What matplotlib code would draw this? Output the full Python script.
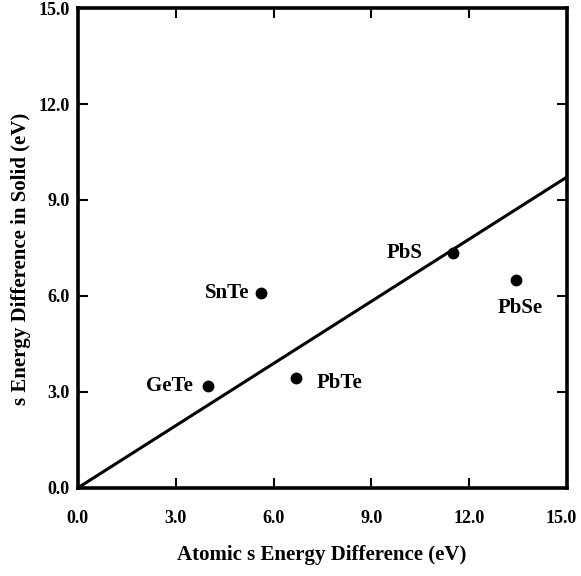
import numpy as np
import matplotlib
matplotlib.use("Agg")
import matplotlib.pyplot as plt
import matplotlib.transforms as mtransforms

plt.rcParams['font.family'] = ['Liberation Serif', 'DejaVu Serif']
plt.rcParams['font.weight'] = 'bold'

# compounds: atomic s energy difference vs s energy difference in the solid (eV)
compounds = ["GeTe", "SnTe", "PbTe", "PbS", "PbSe"]
atomic_ds = [4.0, 5.63, 6.68, 11.49, 13.43]
solid_ds = [3.17, 6.1, 3.45, 7.35, 6.5]

# fitted line through the origin
fit_x = [0.0, 15.0]
fit_y = [0.0, 9.72]

ticks = [0.0, 3.0, 6.0, 9.0, 12.0, 15.0]

# label offsets in points (dx, dy, ha, va)
label_pos = {
    "GeTe": (-11, 0, "right", "center"),
    "SnTe": (-9, 0, "right", "center"),
    "PbTe": (15, -4, "left", "center"),
    "PbS": (-22, 0, "right", "center"),
    "PbSe": (3, -20, "center", "center"),
}

fig = plt.figure(figsize=(5.81, 5.76), dpi=100)
ax = fig.add_axes([0.134, 0.153, 0.842, 0.833])

ax.plot(fit_x, fit_y, color="black", lw=2.2, solid_capstyle="butt")
ax.plot(atomic_ds, solid_ds, "o", color="black", ms=7.5)

for name, x, y in zip(compounds, atomic_ds, solid_ds):
    dx, dy, ha, va = label_pos[name]
    ax.annotate(name, (x, y), xytext=(dx, dy), textcoords="offset points",
                ha=ha, va=va, fontsize=15, fontweight="bold")

ax.set_xlim(0, 15)
ax.set_ylim(0, 15)
ax.set_xticks(ticks)
ax.set_yticks(ticks)
ax.set_xticklabels(["%.1f" % t for t in ticks])
ax.set_yticklabels(["%.1f" % t for t in ticks])
ax.tick_params(direction="in", length=7, width=1.5, labelsize=13,
               top=True, right=True)
ax.tick_params(axis="x", pad=16)
ax.tick_params(axis="y", pad=6)
for lab in ax.get_xticklabels() + ax.get_yticklabels():
    lab.set_fontweight("bold")
for sp in ax.spines.values():
    sp.set_linewidth(2.6)

# nudge the last x label so it stays inside the figure
last = ax.get_xticklabels()[-1]
last.set_transform(last.get_transform() +
                   mtransforms.ScaledTranslation(-4 / 72, 0, fig.dpi_scale_trans))

fig.text(0.554, 0.036, "Atomic s Energy Difference (eV)", ha="center",
         va="center", fontsize=15, fontweight="bold")
fig.text(0.036, 0.55, "s Energy Difference in Solid (eV)", ha="center",
         va="center", rotation=90, fontsize=15, fontweight="bold")

fig.savefig("out.png", dpi=100)
